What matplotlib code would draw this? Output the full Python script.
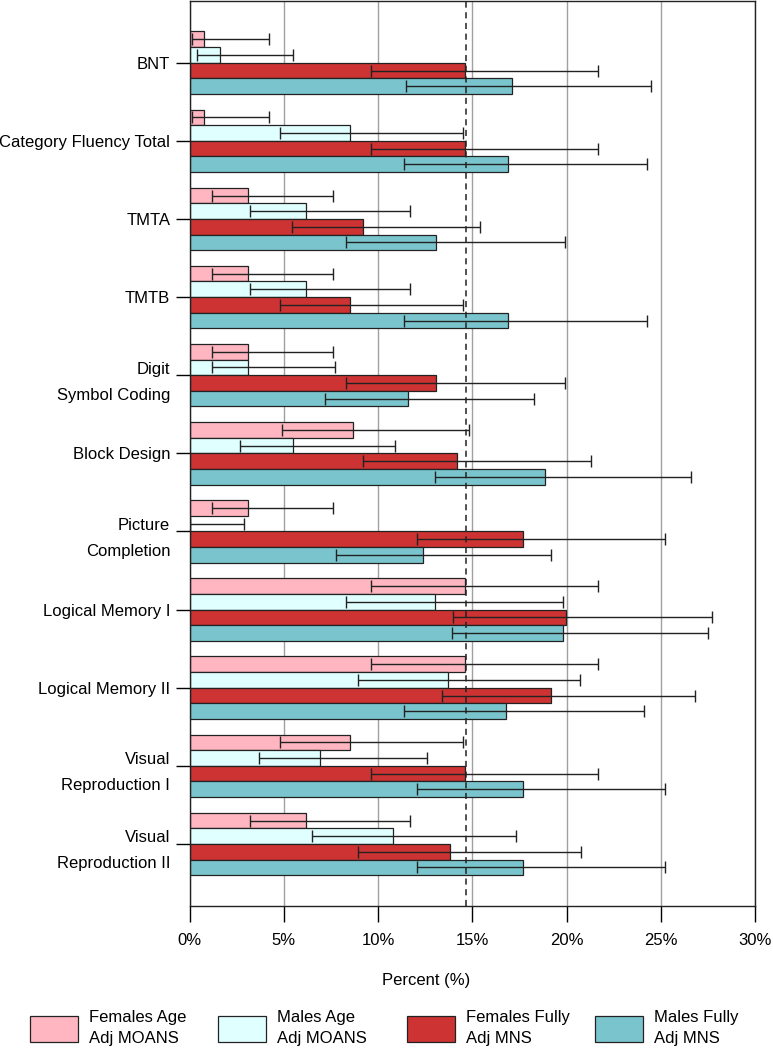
import numpy as np
import matplotlib
matplotlib.use("Agg")
import matplotlib.pyplot as plt

plt.rcParams['font.family'] = ['Liberation Sans', 'DejaVu Sans']

# tests (top to bottom)
categories = ["BNT", "Category Fluency Total", "TMTA", "TMTB", "Digit\nSymbol Coding",
              "Block Design", "Picture\nCompletion", "Logical Memory I",
              "Logical Memory II", "Visual\nReproduction I", "Visual\nReproduction II"]

series_names = ["Females Age\nAdj MOANS", "Males Age\nAdj MOANS",
                "Females Fully\nAdj MNS", "Males Fully\nAdj MNS"]

# percent below cutoff, with lower / upper confidence limits
fem_age    = [0.79, 0.79, 3.08, 3.08, 3.08, 8.68, 3.08, 14.6, 14.6, 8.51, 6.19]
fem_age_lo = [0.11, 0.11, 1.19, 1.19, 1.19, 4.9, 1.19, 9.61, 9.61, 4.8, 3.2]
fem_age_hi = [4.2, 4.2, 7.6, 7.6, 7.6, 14.81, 7.6, 21.68, 21.68, 14.49, 11.71]

male_age    = [1.61, 8.51, 6.19, 6.19, 3.08, 5.49, 0.0, 13.0, 13.7, 6.9, 10.8]
male_age_lo = [0.38, 4.8, 3.2, 3.2, 1.19, 2.7, 0.0, 8.3, 8.91, 3.69, 6.51]
male_age_hi = [5.5, 14.49, 11.71, 11.71, 7.7, 10.9, 2.89, 19.79, 20.7, 12.6, 17.31]

fem_full    = [14.6, 14.6, 9.19, 8.51, 13.09, 14.19, 17.69, 19.98, 19.2, 14.6, 13.81]
fem_full_lo = [9.61, 9.61, 5.41, 4.8, 8.3, 9.19, 12.09, 14.0, 13.39, 9.61, 8.91]
fem_full_hi = [21.68, 21.68, 15.4, 14.49, 19.9, 21.3, 25.2, 27.7, 26.79, 21.68, 20.79]

male_full    = [17.08, 16.87, 13.09, 16.87, 11.58, 18.88, 12.37, 19.79, 16.78, 17.69, 17.69]
male_full_lo = [11.5, 11.39, 8.3, 11.39, 7.2, 13.0, 7.79, 13.9, 11.39, 12.09, 12.09]
male_full_hi = [24.5, 24.29, 19.9, 24.29, 18.29, 26.6, 19.2, 27.49, 24.1, 25.2, 25.2]

expected = 14.68   # dashed reference line

values = [fem_age, male_age, fem_full, male_full]
lows   = [fem_age_lo, male_age_lo, fem_full_lo, male_full_lo]
highs  = [fem_age_hi, male_age_hi, fem_full_hi, male_full_hi]
colors = ["#FFB6C1", "#E0FFFF", "#CD3333", "#7AC5CD"]

fig = plt.figure(figsize=(7.73, 10.5), dpi=100)
ax = fig.add_axes([189.6/773, 1 - 905.7/1050, (755 - 189.6)/773, 904.7/1050])

y = np.arange(len(categories))
h = 0.2
offsets = [-0.3, -0.1, 0.1, 0.3]

handles = []
for vals, lo, hi, col, off, name in zip(values, lows, highs, colors, offsets, series_names):
    vals = np.array(vals)
    err = np.vstack([vals - np.array(lo), np.array(hi) - vals])
    b = ax.barh(y + off, vals, height=h, color=col, edgecolor="#222222",
                linewidth=0.9, label=name, zorder=2)
    ax.errorbar(vals, y + off, xerr=err, fmt="none", ecolor="#222222",
                elinewidth=1.0, capsize=4, capthick=1.0, zorder=4)
    handles.append(b)

ax.axvline(expected, color="#222222", linestyle=(0, (4, 3)), linewidth=1.1, zorder=3)

ax.set_xlim(0, 30)
ax.set_ylim(10.79, -0.79)
ax.set_xticks(np.arange(0, 31, 5))
ax.set_xticklabels([f"{t}%" for t in range(0, 31, 5)])
ax.set_yticks(y)
ax.set_yticklabels(categories, linespacing=1.9)
ax.xaxis.grid(True, color="#A0A0A0", linewidth=1.0, zorder=0)
ax.set_axisbelow(True)

ax.tick_params(axis="x", length=11.5, width=1.0, pad=8, labelsize=12)
ax.tick_params(axis="y", length=10, width=1.0, pad=4, labelsize=12)
for s in ax.spines.values():
    s.set_linewidth(1.0)
    s.set_color("#222222")

ax.set_xlabel("Percent (%)", fontsize=12)
ax.xaxis.set_label_coords((426 - 189.6)/(755 - 189.6), 1 - (980 - 1)/904.7)
ax.xaxis.label.set_va("center")

# legend, one entry per column
leg_x = [29.6, 218, 407, 595]
for hnd, name, lx in zip(handles, series_names, leg_x):
    leg = fig.legend(handles=[hnd], labels=[name], loc="center left",
                     bbox_to_anchor=(lx/773, 1 - 1028/1050), frameon=False,
                     borderpad=0, borderaxespad=0, handlelength=2.9, handleheight=2.0,
                     handletextpad=0.65, fontsize=12)
    for t in leg.get_texts():
        t.set_multialignment("left")
        t.set_linespacing(1.5)

fig.savefig("out.png", dpi=100)
